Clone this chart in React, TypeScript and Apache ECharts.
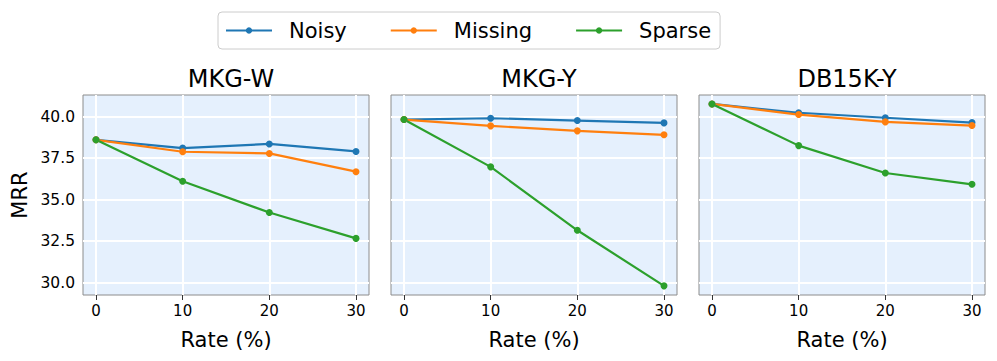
import React, { useEffect, useRef } from "react";
import * as echarts from "echarts";

const rates = [0, 10, 20, 30];
const panelTitles = ["MKG-W", "MKG-Y", "DB15K-Y"];
const seriesNames = ["Noisy", "Missing", "Sparse"];
const seriesColors = ["#1f77b4", "#ff7f0e", "#2ca02c"];

const mkgwNoisy = [38.6, 38.1, 38.35, 37.9];
const mkgwMissing = [38.6, 37.88, 37.78, 36.68];
const mkgwSparse = [38.6, 36.1, 34.22, 32.66];

const mkgyNoisy = [39.82, 39.9, 39.76, 39.62];
const mkgyMissing = [39.82, 39.44, 39.14, 38.9];
const mkgySparse = [39.82, 36.97, 33.15, 29.8];

const dbNoisy = [40.76, 40.23, 39.93, 39.64];
const dbMissing = [40.76, 40.12, 39.68, 39.46];
const dbSparse = [40.76, 38.25, 36.6, 35.92];

const yTicks = [30, 32.5, 35, 37.5, 40];
const xTicks = [0, 10, 20, 30];

const panelData = [
  [mkgwNoisy, mkgwMissing, mkgwSparse],
  [mkgyNoisy, mkgyMissing, mkgySparse],
  [dbNoisy, dbMissing, dbSparse],
];

const FONT = "DejaVu Sans";

export default function App() {
  const ref = useRef<HTMLDivElement>(null);
  useEffect(() => {
    if (!ref.current) return;
    const chart = echarts.init(ref.current, null, { renderer: "svg" });
    const lefts = [83, 391, 699];
    const gw = 286;
    const top = 95;
    const gh = 200;

    const grids = lefts.map((l) => ({
      left: l,
      top,
      width: gw,
      height: gh,
      show: true,
      backgroundColor: "#e5f0fd",
      borderColor: "#8c8c8c",
      borderWidth: 1,
    }));

    const xAxes = lefts.map((_, i) => ({
      type: "value",
      gridIndex: i,
      min: -1.5,
      max: 31.5,
      name: "Rate (%)",
      nameLocation: "middle",
      nameGap: 34,
      nameTextStyle: { fontFamily: FONT, fontSize: 21, color: "#000" },
      axisLine: { show: false },
      axisTick: {
        show: true,
        length: 5,
        customValues: xTicks,
        lineStyle: { color: "#333", width: 1 },
      },
      axisLabel: {
        customValues: xTicks,
        fontFamily: FONT,
        fontSize: 15,
        color: "#000",
        margin: 8,
      },
      splitLine: { show: false },
    }));

    const yAxes = lefts.map((_, i) => ({
      type: "value",
      gridIndex: i,
      min: 29.25,
      max: 41.3,
      name: i === 0 ? "MRR" : "",
      nameLocation: "middle",
      nameGap: 53,
      nameTextStyle: { fontFamily: FONT, fontSize: 21, color: "#000" },
      axisLine: { show: false },
      axisTick: {
        show: true,
        length: 5,
        customValues: yTicks,
        lineStyle: { color: "#333", width: 1 },
      },
      axisLabel: {
        show: i === 0,
        customValues: yTicks,
        fontFamily: FONT,
        fontSize: 15.5,
        color: "#000",
        margin: 8,
        formatter: (v: number) => v.toFixed(1),
      },
      splitLine: { show: false },
    }));

    const series: any[] = [];
    lefts.forEach((_, gi) => {
      series.push({
        type: "line",
        name: "gridlines",
        xAxisIndex: gi,
        yAxisIndex: gi,
        data: [],
        z: 1,
        silent: true,
        markLine: {
          z: 1,
          silent: true,
          symbol: "none",
          animation: false,
          label: { show: false },
          lineStyle: { color: "#ffffff", width: 2, type: "solid" },
          emphasis: { disabled: true },
          data: [
            ...xTicks.map((v) => ({ xAxis: v })),
            ...yTicks.map((v) => ({ yAxis: v })),
          ],
        },
      });
    });
    panelData.forEach((panel, gi) => {
      panel.forEach((vals, si) => {
        series.push({
          type: "line",
          name: seriesNames[si],
          xAxisIndex: gi,
          yAxisIndex: gi,
          z: 6,
          data: rates.map((r, k) => [r, vals[k]]),
          symbol: "circle",
          symbolSize: 7,
          color: seriesColors[si],
          lineStyle: { width: 2.2, color: seriesColors[si] },
          itemStyle: { color: seriesColors[si] },
        });
      });
    });

    chart.setOption({
      animation: false,
      backgroundColor: "#ffffff",
      title: panelTitles.map((t, i) => ({
        text: t,
        left: lefts[i] + gw / 2,
        top: 62,
        textAlign: "center",
        textStyle: { fontFamily: FONT, fontSize: 24, fontWeight: "normal", color: "#000" },
      })),
      legend: {
        data: seriesNames,
        left: 218,
        top: 12,
        padding: [8, 9, 8, 7],
        itemWidth: 46,
        itemHeight: 8,
        itemGap: 43,
        borderColor: "#cccccc",
        borderWidth: 1,
        borderRadius: 4,
        textStyle: { fontFamily: FONT, fontSize: 21, color: "#000", padding: [0, 0, 0, 12] },
      },
      grid: grids,
      xAxis: xAxes,
      yAxis: yAxes,
      series,
    });
    return () => chart.dispose();
  }, []);
  return (
    <div
      ref={ref}
      style={{ position: "fixed", left: 0, top: 0, width: 997, height: 361 }}
    />
  );
}
